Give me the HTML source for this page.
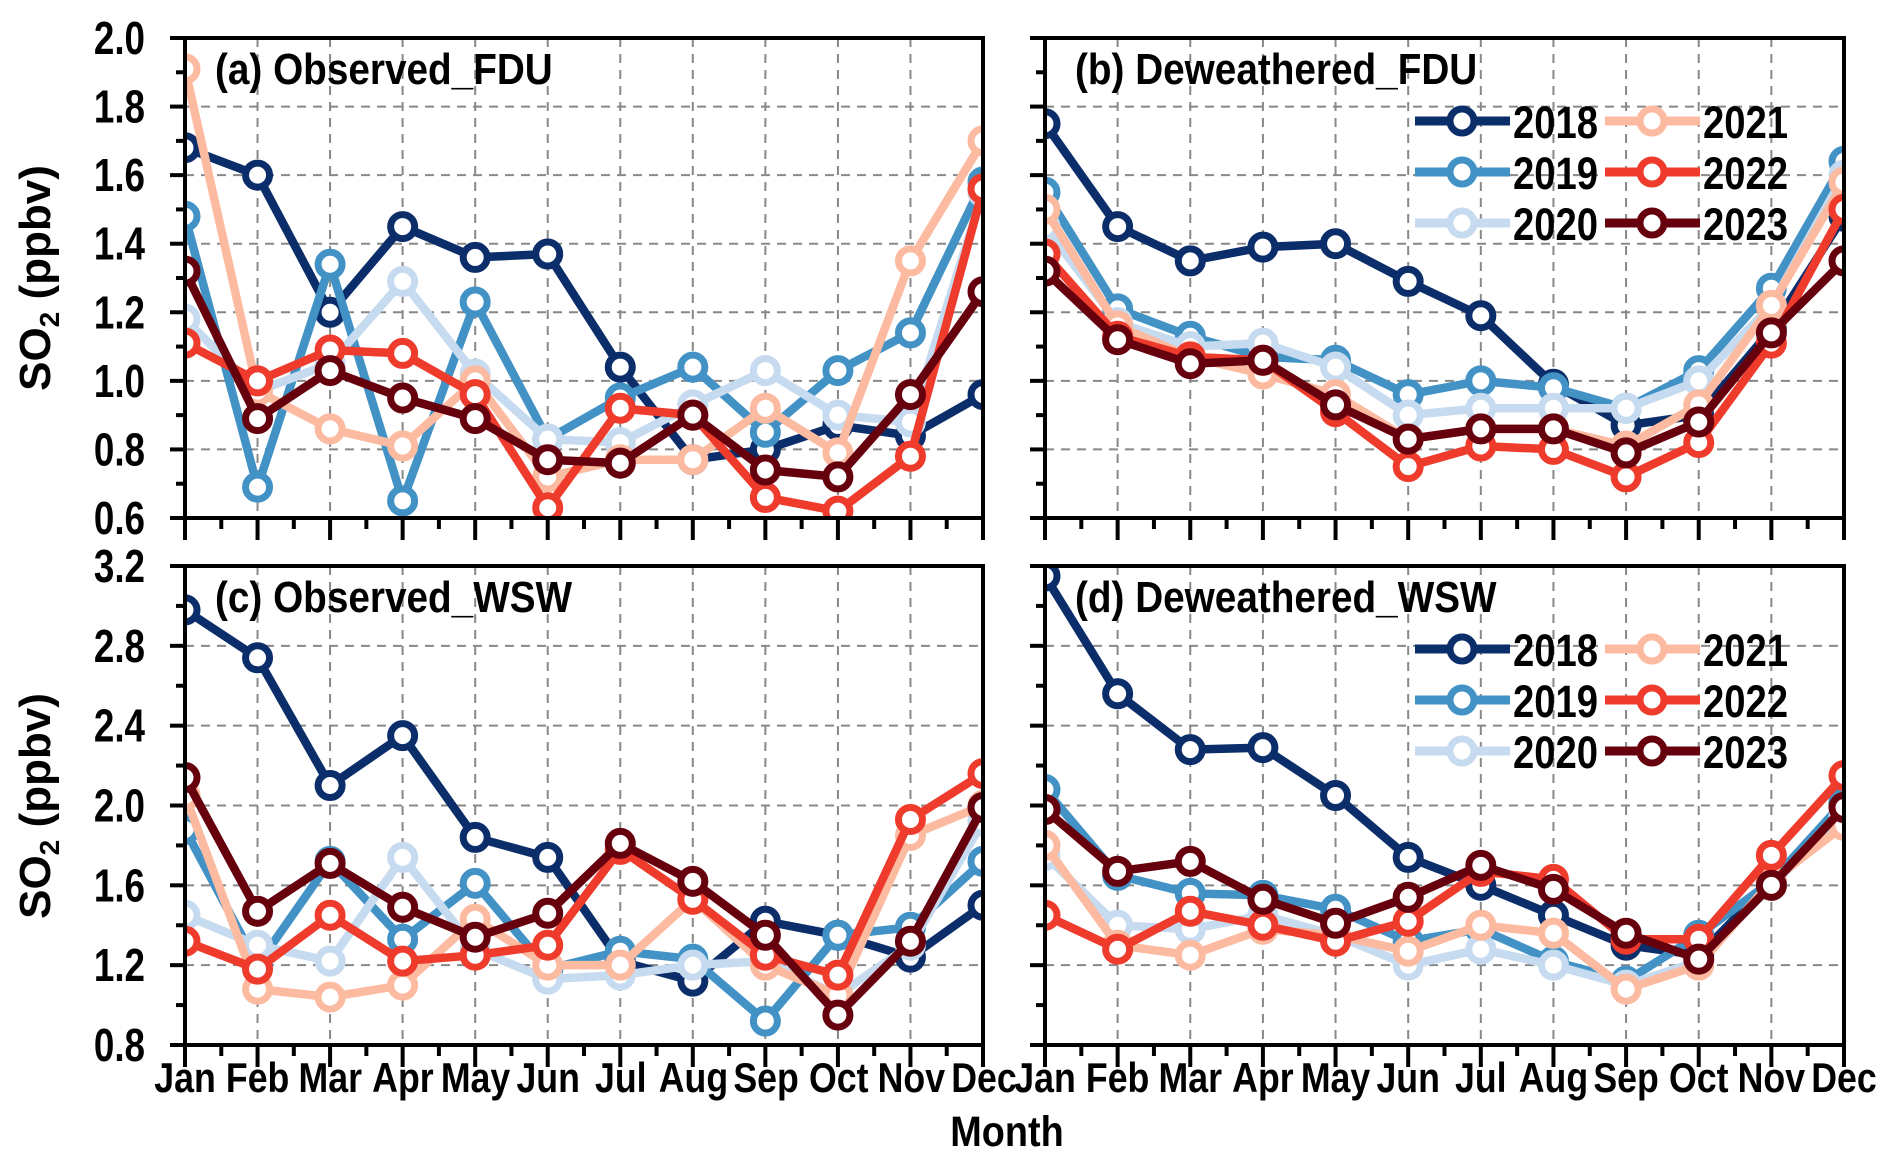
<!DOCTYPE html>
<html><head><meta charset="utf-8"><style>
html,body{margin:0;padding:0;background:#fff}
svg text{font-family:"Liberation Sans",sans-serif;font-weight:bold;fill:#000}
</style></head><body>
<svg id="chart" width="1892" height="1161" viewBox="0 0 1892 1161" xmlns="http://www.w3.org/2000/svg"></svg>
<script>
const months = ["Jan","Feb","Mar","Apr","May","Jun","Jul","Aug","Sep","Oct","Nov","Dec"];
const years = ["2018","2019","2020","2021","2022","2023"];
const topTicks = ["0.6","0.8","1.0","1.2","1.4","1.6","1.8","2.0"];
const bottomTicks = ["0.8","1.2","1.6","2.0","2.4","2.8","3.2"];
// (a) Observed_FDU
const obsFDU2018 = [1.68,1.60,1.20,1.45,1.36,1.37,1.04,0.77,0.80,0.87,0.84,0.96];
const obsFDU2019 = [1.48,0.69,1.34,0.65,1.23,0.83,0.95,1.04,0.85,1.03,1.14,1.58];
const obsFDU2020 = [1.18,0.97,1.05,1.29,1.02,0.83,0.82,0.93,1.03,0.90,0.88,1.55];
const obsFDU2021 = [1.91,0.97,0.86,0.81,1.00,0.72,0.77,0.77,0.92,0.79,1.35,1.70];
const obsFDU2022 = [1.11,1.00,1.09,1.08,0.96,0.63,0.92,0.90,0.66,0.62,0.78,1.56];
const obsFDU2023 = [1.32,0.89,1.03,0.95,0.89,0.77,0.76,0.90,0.74,0.72,0.96,1.26];
// (b) Deweathered_FDU
const dewFDU2018 = [1.75,1.45,1.35,1.39,1.40,1.29,1.19,0.99,0.87,0.90,1.15,1.48];
const dewFDU2019 = [1.55,1.21,1.13,1.07,1.06,0.96,1.00,0.98,0.92,1.03,1.27,1.64];
const dewFDU2020 = [1.45,1.17,1.10,1.11,1.04,0.90,0.92,0.92,0.92,1.00,1.22,1.60];
const dewFDU2021 = [1.50,1.16,1.07,1.02,0.96,0.83,0.86,0.86,0.81,0.93,1.22,1.58];
const dewFDU2022 = [1.37,1.13,1.07,1.06,0.91,0.75,0.81,0.80,0.72,0.82,1.11,1.50];
const dewFDU2023 = [1.32,1.12,1.05,1.06,0.93,0.83,0.86,0.86,0.79,0.88,1.14,1.35];
// (c) Observed_WSW
const obsWSW2018 = [2.98,2.74,2.10,2.35,1.84,1.74,1.22,1.12,1.42,1.35,1.24,1.50];
const obsWSW2019 = [1.88,1.20,1.72,1.33,1.61,1.18,1.27,1.23,0.92,1.35,1.39,1.72];
const obsWSW2020 = [1.45,1.30,1.22,1.74,1.28,1.13,1.15,1.20,1.22,1.05,1.30,1.92];
const obsWSW2021 = [2.05,1.08,1.04,1.10,1.43,1.20,1.20,1.53,1.20,1.05,1.85,2.00];
const obsWSW2022 = [1.32,1.18,1.45,1.22,1.25,1.30,1.78,1.53,1.25,1.15,1.93,2.16];
const obsWSW2023 = [2.14,1.47,1.71,1.49,1.34,1.46,1.81,1.62,1.35,0.95,1.32,1.99];
// (d) Deweathered_WSW
const dewWSW2018 = [3.15,2.56,2.28,2.29,2.05,1.74,1.60,1.45,1.30,1.25,1.62,2.00];
const dewWSW2019 = [2.08,1.65,1.56,1.55,1.48,1.32,1.38,1.22,1.12,1.35,1.62,2.02];
const dewWSW2020 = [1.75,1.40,1.38,1.45,1.35,1.20,1.28,1.20,1.10,1.22,1.60,1.95];
const dewWSW2021 = [1.80,1.30,1.25,1.38,1.35,1.27,1.40,1.36,1.08,1.20,1.62,1.90];
const dewWSW2022 = [1.45,1.28,1.47,1.40,1.32,1.42,1.67,1.63,1.33,1.33,1.75,2.15];
const dewWSW2023 = [1.98,1.67,1.72,1.53,1.41,1.54,1.70,1.58,1.36,1.23,1.60,1.99];

const colors = ["#0b2e6b","#4292c6","#c6dbef","#fcbba1","#ef3b2c","#67000d"];
const NS = "http://www.w3.org/2000/svg";
const svg = document.getElementById("chart");
function mk(tag, attrs, parent){
  const e = document.createElementNS(NS, tag);
  for (const k in attrs) e.setAttribute(k, attrs[k]);
  (parent||svg).appendChild(e);
  return e;
}
function txt(x, y, size, sx, anchor, str, parent){
  const t = mk("text", {x:0, y:0, "font-size":size, "text-anchor":anchor, transform:"translate("+x+","+y+") scale("+sx+",1)"}, parent);
  t.textContent = str;
  return t;
}
const panels = [
  {id:"a", title:"(a) Observed_FDU", x0:185, x1:983, y0:38, y1:518, min:0.6, max:2.0, minor:0.1, ticks:topTicks, labels:true, legend:false, series:[obsFDU2018,obsFDU2019,obsFDU2020,obsFDU2021,obsFDU2022,obsFDU2023]},
  {id:"b", title:"(b) Deweathered_FDU", x0:1045, x1:1844, y0:38, y1:518, min:0.6, max:2.0, minor:0.1, ticks:topTicks, labels:false, legend:true, series:[dewFDU2018,dewFDU2019,dewFDU2020,dewFDU2021,dewFDU2022,dewFDU2023]},
  {id:"c", title:"(c) Observed_WSW", x0:185, x1:983, y0:566, y1:1045, min:0.8, max:3.2, minor:0.2, ticks:bottomTicks, labels:true, legend:false, series:[obsWSW2018,obsWSW2019,obsWSW2020,obsWSW2021,obsWSW2022,obsWSW2023]},
  {id:"d", title:"(d) Deweathered_WSW", x0:1045, x1:1844, y0:566, y1:1045, min:0.8, max:3.2, minor:0.2, ticks:bottomTicks, labels:false, legend:true, series:[dewWSW2018,dewWSW2019,dewWSW2020,dewWSW2021,dewWSW2022,dewWSW2023]}
];
panels.forEach(p => {
  const g = mk("g", {});
  
  
  const xs = i => p.x0 + (p.x1 - p.x0) * i / 11;
  const ys = v => p.y1 - (p.y1 - p.y0) * (v - p.min) / (p.max - p.min);
  const clipId = "clip" + p.id;
  const cp = mk("clipPath", {id:clipId}, g);
  mk("rect", {x:p.x0, y:p.y0, width:p.x1-p.x0, height:p.y1-p.y0}, cp);
  for (let i = 1; i < 11; i++) {
    const l = mk("line", {x1:xs(i), x2:xs(i), y1:p.y0, y2:p.y1, stroke:"#888", "stroke-width":2, "stroke-dasharray":"9,7"}, g);
    
    
  }
  p.ticks.forEach((t, k) => {
    const v = parseFloat(t), y = ys(v);
    if (k > 0 && k < p.ticks.length - 1) {
      const l = mk("line", {x1:p.x0, x2:p.x1, y1:y, y2:y, stroke:"#888", "stroke-width":2, "stroke-dasharray":"9,7"}, g);
      
      
    }
    mk("line", {x1:p.x0-15, x2:p.x0, y1:y, y2:y, stroke:"#000", "stroke-width":4}, g);
    if (k < p.ticks.length - 1) {
      const ym = ys(v + p.minor);
      mk("line", {x1:p.x0-9, x2:p.x0, y1:ym, y2:ym, stroke:"#000", "stroke-width":4}, g);
    }
    if (p.labels) {
      const tx = txt(p.x0-40, y+16, 46, 0.8, "end", t, g);
      
      
    }
  });
  for (let i = 0; i < 12; i++) {
    mk("line", {x1:xs(i), x2:xs(i), y1:p.y1, y2:p.y1+22, stroke:"#000", "stroke-width":4}, g);
    if (i < 11) mk("line", {x1:xs(i+0.5), x2:xs(i+0.5), y1:p.y1, y2:p.y1+11, stroke:"#000", "stroke-width":4}, g);
  }
  const sg = mk("g", {"clip-path":"url(#"+clipId+")"}, g);
  p.series.forEach((vals, s) => {
    const pts = vals.map((v,i)=>xs(i)+","+ys(v)).join(" ");
    const pl = mk("polyline", {points:pts, fill:"none", stroke:colors[s], "stroke-width":8.5, "stroke-linejoin":"round"}, sg);
    
    
    vals.forEach((v,i) => {
      const c = mk("circle", {cx:xs(i), cy:ys(v), r:12, fill:"#fff", stroke:colors[s], "stroke-width":7}, sg);
      
      
    });
  });
  const fr = mk("rect", {x:p.x0, y:p.y0, width:p.x1-p.x0, height:p.y1-p.y0, fill:"none", stroke:"#000", "stroke-width":4}, g);
  
  
  const tt = txt(p.x0+30, p.y0+46, 44, 0.88, "start", p.title, g);
  
  
  if (p.legend) {
    const lg = mk("g", {}, g);
    
    
    years.forEach((yr, s) => {
      const col = Math.floor(s/3), row = s%3;
      const lx = p.x0 + (col ? 560 : 370), ly = p.y0 + 83 + row*51;
      const e = mk("g", {}, lg);
      
      
      mk("line", {x1:lx, x2:lx+95, y1:ly, y2:ly, stroke:colors[s], "stroke-width":9}, e);
      mk("circle", {cx:lx+47, cy:ly, r:12, fill:"#fff", stroke:colors[s], "stroke-width":7}, e);
      txt(lx+98, ly+17, 45, 0.85, "start", yr, e);
    });
  }
});
[185,1045].forEach(x0 => {
  months.forEach((m,i) => {
    const t = txt(x0 + 799*i/11, 1092, 42, 0.85, "middle", m);
    
    
  });
});
const xt = txt(1007, 1146, 43, 0.88, "middle", "Month");


[278, 806].forEach(cy => {
  const t = mk("text", {x:0, y:0, "text-anchor":"middle", "font-size":44, transform:"translate(50,"+cy+") rotate(-90)"});
  
  
  t.appendChild(document.createTextNode("SO"));
  const sub = mk("tspan", {"font-size":28, dy:9}, t);
  sub.textContent = "2";
  const rest = mk("tspan", {dy:-9}, t);
  rest.textContent = " (ppbv)";
});
</script>
</body></html>
